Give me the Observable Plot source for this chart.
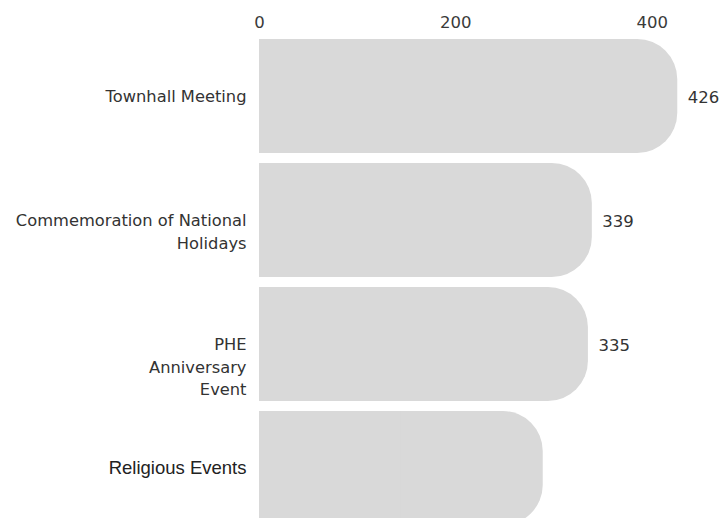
<!DOCTYPE html>
<html><head><meta charset="utf-8">
<script src="https://cdn.jsdelivr.net/npm/d3@7"></script>
<script src="https://cdn.jsdelivr.net/npm/@observablehq/plot@0.6"></script>
<style>html,body{margin:0;padding:0;overflow:hidden;background:#fff;width:721px;height:518px}</style>
</head><body><div id="chart"></div>
<script>
const categories = ["Townhall Meeting", "Commemoration of National Holidays", "PHE Anniversary Event", "Religious Events"];
const displayLabels = ["Townhall Meeting", "Commemoration of National\nHolidays", "PHE\nAnniversary\nEvent", "Religious Events"];
const values = [426, 339, 335, 289];
const valueLabels = ["426", "339", "335", ""];
const xTicks = [0, 200, 400];

const data = categories.map((c, i) => ({cat: c, label: displayLabels[i], value: values[i], vlabel: valueLabels[i], idx: i}));

const chart = Plot.plot({
  width: 721,
  height: 530,
  marginLeft: 259,
  marginRight: 30,
  marginTop: 34,
  marginBottom: 0,
  style: {fontFamily: "DejaVu Sans", fontSize: "16.5px", color: "#3a3a3a"},
  x: {domain: [0, 440], axis: "top", ticks: xTicks, tickSize: 0, tickPadding: 7, label: null},
  y: {domain: categories, padding: 0, axis: null},
  marks: [
    Plot.barX(data, {y: "cat", x: "value", fill: "#d9d9d9", insetTop: 5, insetBottom: 5, rx: 40}),
    Plot.barX(data, {y: "cat", x1: 0, x2: d => d.value / 2, fill: "#d9d9d9", insetTop: 5, insetBottom: 5}),
    Plot.text(data, {y: "cat", x: "value", text: "vlabel", dx: 10, dy: 1, textAnchor: "start", fill: "#333", fontSize: 16.5}),
    Plot.text(data.filter(d => d.idx < 3), {y: "cat", x: 0, text: "label", dx: -13, textAnchor: "end", lineAnchor: "top", lineHeight: 1.4, dy: -11, fill: "#333", fontSize: 16.3}),
    Plot.text(data.filter(d => d.idx === 3), {y: "cat", x: 0, text: "label", dx: -13, textAnchor: "end", fill: "#222", fontSize: 18.5, fontFamily: "Liberation Sans"})
  ]
});
document.getElementById("chart").appendChild(chart);
</script>
</body></html>
